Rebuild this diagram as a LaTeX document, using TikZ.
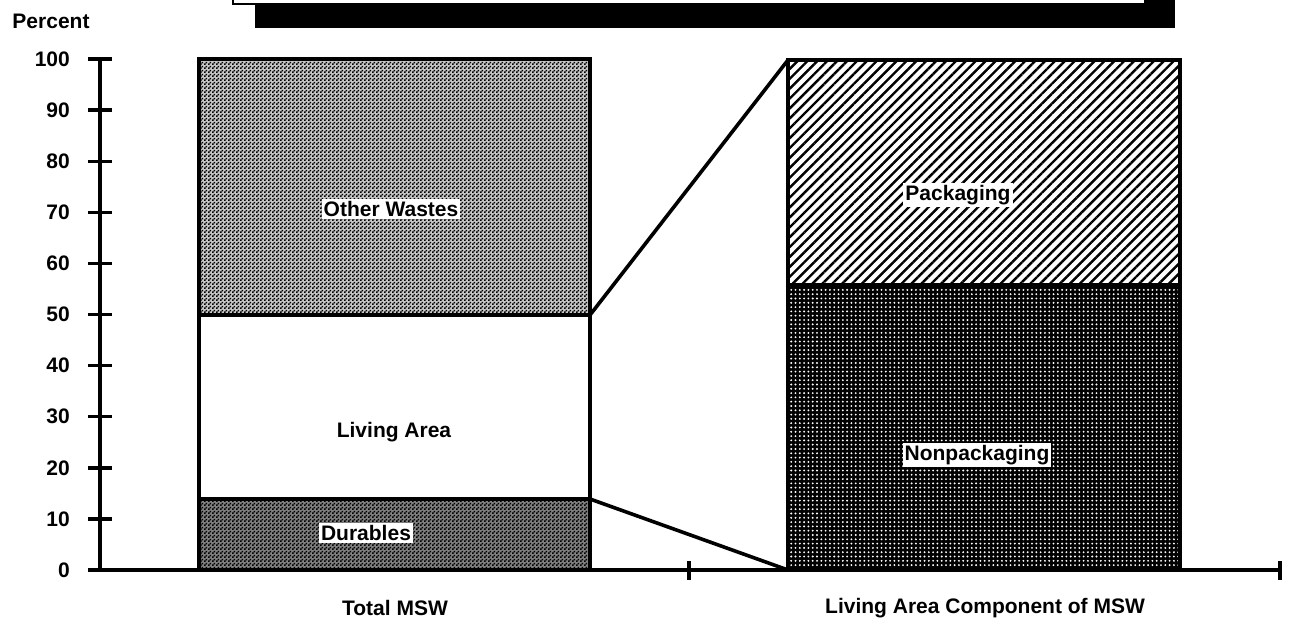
\documentclass[tikz,border=0pt]{standalone}
\usepackage{fontspec}
\setmainfont{Liberation Sans}
\usetikzlibrary{patterns,patterns.meta}
\pgfdeclarepatternformonly{checker}{\pgfqpoint{0pt}{0pt}}{\pgfqpoint{4pt}{4pt}}{\pgfqpoint{4pt}{4pt}}{%
  \pgfpathrectangle{\pgfqpoint{0pt}{0pt}}{\pgfqpoint{2pt}{2pt}}%
  \pgfpathrectangle{\pgfqpoint{2pt}{2pt}}{\pgfqpoint{2pt}{2pt}}%
  \pgfusepath{fill}}
\begin{document}
\begin{tikzpicture}[x=1pt,y=-1pt,
  font=\fontsize{21}{24}\selectfont\bfseries,
  seg/.style={draw=black, line width=3.4pt},
  lab/.style={fill=white, inner sep=2pt},
  plain/.style={inner sep=1pt},
  axisline/.style={line width=3.6pt},
  conn/.style={line width=3.6pt},
  tickmark/.style={line width=3.4pt},
  othersty/.style={pattern=checker, pattern color=black},
  packsty/.style={pattern={Lines[angle=45,distance=7pt,line width=2.4pt]}, pattern color=black},
  nonpacksty/.style={pattern={Dots[radius=1.05pt,distance=4.3pt]}, pattern color=white}]
\useasboundingbox (0,0) rectangle (1295,621);
\clip (0,0) rectangle (1295,621);
% title box (cut off at top)
\fill[black] (255,-30) rectangle (1175,28);
\draw[fill=white, line width=2.2pt] (233,-40) rectangle (1145,4);
% left bar
\fill[black!22] (199,59) rectangle (590,315);
\path[othersty] (199,59) rectangle (590,315);
\fill[black!50] (199,499) rectangle (590,570);
\path[othersty] (199,499) rectangle (590,570);
\draw[seg] (199,570) rectangle (590,59);
\draw[seg] (199,315) -- (590,315);
\draw[seg] (199,499) -- (590,499);
% right bar
\path[packsty] (788,60) rectangle (1180,285);
\fill[black] (788,285) rectangle (1180,570);
\path[nonpacksty] (788,285) rectangle (1180,570);
\draw[seg] (788,570) rectangle (1180,60);
\draw[seg] (788,285) -- (1180,285);
% connectors
\coordinate (L50) at (590,315);
\coordinate (R100) at (788,60);
\coordinate (L14) at (590,499);
\coordinate (R0) at (788,570);
\draw[conn] (L50) -- (R100);
\draw[conn] (L14) -- (R0);
% axes
\coordinate (ybot) at (100,570);
\coordinate (ytop) at (100,59);
\draw[axisline] (ybot) -- (ytop);
\coordinate (xleft) at (88,570);
\coordinate (xright) at (1280,570);
\draw[axisline] (xleft) -- (xright);
\foreach \v in {0,10,...,100} {
  \pgfmathsetmacro{\yy}{570-5.11*\v}
  \draw[tickmark] (88,\yy) -- (112,\yy);
  \node[anchor=east, plain] (yl\v) at (71,\yy) {\v};
}
\draw[tickmark] (689,561) -- (689,580);
\draw[tickmark] (1280,561) -- (1280,580);
% labels
\node[plain] (percent) at (51,21) {Percent};
\node[lab] (other) at (391,209) {Other Wastes};
\node[plain] (living) at (394,432) {Living Area};
\node[lab] (durables) at (366,533) {Durables};
\node[lab] (packaging) at (958,195) {Packaging};
\node[lab] (nonpack) at (977,455) {Nonpackaging};
\node[plain] (total) at (395,608) {Total MSW};
\node[plain] (lacomp) at (985,608) {Living Area Component of MSW};
\end{tikzpicture}
\end{document}
